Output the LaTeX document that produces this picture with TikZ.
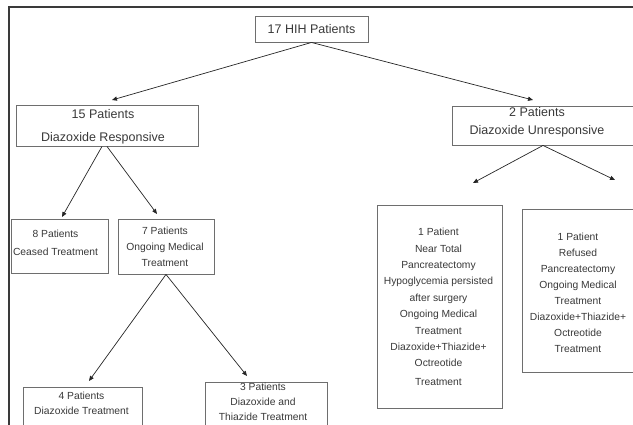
\documentclass[tikz,border=0pt]{standalone}
\usepackage{fontspec}
\setmainfont{Liberation Sans}
\usetikzlibrary{arrows.meta,fit,calc}
\definecolor{boxline}{HTML}{6E6E6E}
\definecolor{txtc}{HTML}{383838}
\definecolor{arrc}{HTML}{252525}
\definecolor{framec}{HTML}{3A3A3A}
\begin{document}
\begin{tikzpicture}[x=1pt,y=-1pt,
  box/.style={draw=boxline, line width=0.9pt, inner sep=0pt},
  bigtxt/.style={text=txtc, align=center, inner sep=0pt, font={\fontsize{12.5}{23}\selectfont}},
  smalltxt/.style={text=txtc, align=center, inner sep=0pt, font={\fontsize{10.3}{16}\selectfont}},
  arr/.style={draw=arrc, line width=0.7pt, -{Triangle[length=5pt,width=4.2pt]}},
  framel/.style={draw=framec, line width=1.1pt}]
\useasboundingbox (0,0) rectangle (633,425);
\clip (0,0) rectangle (633,425);
% outer frame
\draw[framel] (9,430) -- (9,7) -- (640,7);
% boxes
\node[box, fit={(255,16) (368,42)}] (top) {};
\node[box, fit={(16,105) (198,146)}] (b15) {};
\node[box, fit={(452,106) (640,145)}] (b2) {};
\node[box, fit={(11,219) (108,273)}] (b8) {};
\node[box, fit={(118,219) (214,274)}] (b7) {};
\node[box, fit={(23,387) (142,440)}] (b4) {};
\node[box, fit={(205,382) (327,440)}] (b3) {};
\node[box, fit={(377,205) (502,408)}] (bL) {};
\node[box, fit={(522,209) (700,372)}] (bR) {};
% texts
\node[bigtxt] (t17) at (311.5,29) {17 HIH Patients};
\node[bigtxt] (t15) at (103,126.5) {15 Patients\\Diazoxide Responsive};
\node[bigtxt, font={\fontsize{12.5}{18}\selectfont}] (t2) at (537,122) {2 Patients\\Diazoxide Unresponsive};
\node[smalltxt, font={\fontsize{10.3}{18}\selectfont}] (t8) at (55.5,243) {8 Patients\\Ceased Treatment};
\node[smalltxt] (t7) at (165,247) {7 Patients\\Ongoing Medical\\Treatment};
\node[smalltxt, font={\fontsize{10.3}{15}\selectfont}] (t4) at (81.5,403.5) {4 Patients\\Diazoxide Treatment};
\node[smalltxt, font={\fontsize{10.3}{15}\selectfont}] (t3) at (263,402) {3 Patients\\Diazoxide and\\Thiazide Treatment};
\node[smalltxt, font={\fontsize{10.3}{16.4}\selectfont}] (tL) at (438.5,307) {1 Patient\\Near Total\\Pancreatectomy\\Hypoglycemia persisted\\after surgery\\Ongoing Medical\\Treatment\\Diazoxide+Thiazide+\\Octreotide\\[2.5pt]Treatment};
\node[smalltxt] (tR) at (578,293) {1 Patient\\Refused\\Pancreatectomy\\Ongoing Medical\\Treatment\\Diazoxide+Thiazide+\\Octreotide\\Treatment};
% arrow tips
\coordinate (a15) at (112,100);
\coordinate (a2) at (533,100);
\coordinate (a8) at (62,217);
\coordinate (a7) at (157,214);
\coordinate (a4) at (89,381);
\coordinate (a3) at (247,376);
\coordinate (aL) at (473,183);
\coordinate (aR) at (615,180);
% connectors
\draw[arr] (top.south) -- (a15);
\draw[arr] (top.south) -- (a2);
\draw[arr] ($(b15.south)+(-5,0)$) -- (a8);
\draw[arr] (b15.south) -- (a7);
\draw[arr] (b7.south) -- (a4);
\draw[arr] (b7.south) -- (a3);
\draw[arr] ($(b2.south)+(-3,0)$) -- (aL);
\draw[arr] ($(b2.south)+(-3,0)$) -- (aR);
\end{tikzpicture}
\end{document}
